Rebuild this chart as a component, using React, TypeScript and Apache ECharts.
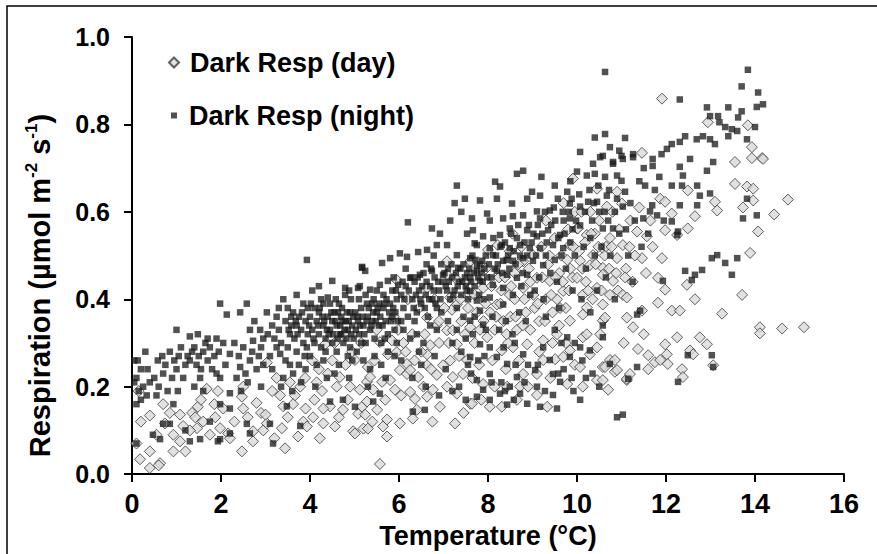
import React, { useEffect, useRef } from "react";
import * as echarts from "echarts";

const seriesNames = ["Dark Resp (day)", "Dark Resp (night)"];
const xTicks = [0, 2, 4, 6, 8, 10, 12, 14, 16];
const yTicks = [0, 0.2, 0.4, 0.6, 0.8, 1.0];

// Night (squares): [temperature, respiration]
const nightData: number[][] = [
  [0.05,0.21],[0.1,0.22],[0.13,0.26],[0.1,0.16],[0.1,0.07],[0.2,0.24],[0.3,0.28],[0.33,0.18],[0.4,0.21],[0.47,0.09],[0.55,0.18],[0.58,0.26],[0.63,0.08],[0.7,0.23],[0.7,0.115],[0.85,0.28],[0.85,0.115],[0.93,0.16],[0.25,0.2],[0.5,0.22],[0.75,0.25],[0.9,0.22],[0.15,0.19],[0.6,0.2],[0.8,0.19],[0.95,0.26],[0.35,0.24],[0.05,0.26],[0.2,0.17],[0.68,0.27],
  [1.0,0.33],[1.0,0.24],[1.03,0.19],[1.3,0.315],[1.48,0.32],[1.35,0.28],[1.2,0.25],[1.25,0.27],[1.3,0.26],[1.4,0.29],[1.45,0.25],[1.5,0.27],[1.55,0.24],[1.6,0.28],[1.7,0.26],[1.75,0.29],[1.85,0.27],[1.9,0.23],[1.53,0.22],[1.3,0.075],[1.53,0.08],[1.93,0.075],[1.98,0.22],[1.98,0.16],[1.98,0.39],[1.1,0.29],[1.15,0.22],[1.65,0.3],[1.8,0.24],[1.95,0.28],[1.05,0.27],[1.7,0.31],[1.4,0.2],[1.6,0.19],[1.2,0.1],[1.75,0.12],[1.9,0.31],
  [2.13,0.365],[2.43,0.37],[2.58,0.39],[2.2,0.275],[2.43,0.245],[2.65,0.26],[2.8,0.24],[2.2,0.185],[2.2,0.15],[2.58,0.115],[2.65,0.093],[1.98,0.08],[2.2,0.093],[2.65,0.33],[2.72,0.305],[2.95,0.31],[2.3,0.3],[2.4,0.27],[2.5,0.29],[2.55,0.23],[2.7,0.28],[2.85,0.27],[2.9,0.29],[2.35,0.22],[2.1,0.25],[2.05,0.3],[2.75,0.35],[2.88,0.33],[2.6,0.21],[2.45,0.19],[2.95,0.25],[2.9,0.2],
  [3.03,0.37],[3.25,0.36],[3.4,0.4],[3.62,0.37],[3.7,0.34],[3.55,0.32],[3.25,0.29],[3.1,0.27],[3.33,0.275],[3.62,0.23],[3.85,0.39],[3.93,0.29],[3.1,0.115],[3.17,0.07],[3.48,0.155],[3.78,0.11],[3.93,0.49],[3.05,0.32],[3.15,0.34],[3.2,0.31],[3.3,0.33],[3.35,0.3],[3.45,0.35],[3.5,0.29],[3.58,0.34],[3.65,0.31],[3.7,0.28],[3.75,0.36],[3.8,0.33],[3.85,0.3],[3.9,0.35],[3.95,0.32],[3.45,0.26],[3.55,0.25],[3.75,0.25],[3.88,0.27],[3.15,0.24],[3.4,0.22],[3.8,0.21],[3.6,0.19],[3.95,0.38],[3.5,0.38],[3.3,0.38],[3.7,0.41],[3.9,0.24],[3.35,0.2],
  [3.52,0.33],[3.68,0.35],[3.82,0.37],[3.98,0.34],[3.72,0.32],[3.58,0.36],
  [4.0,0.36],[4.05,0.33],[4.1,0.38],[4.1,0.3],[4.15,0.35],[4.2,0.32],[4.2,0.37],[4.25,0.29],[4.3,0.34],[4.3,0.39],[4.35,0.31],[4.4,0.36],[4.4,0.404],[4.45,0.33],[4.5,0.442],[4.5,0.3],[4.55,0.37],[4.6,0.34],[4.6,0.28],[4.65,0.39],[4.7,0.32],[4.7,0.36],[4.75,0.3],[4.79,0.41],[4.79,0.426],[4.8,0.35],[4.85,0.33],[4.9,0.37],[4.9,0.29],[4.95,0.34],[4.0,0.27],[4.15,0.25],[4.3,0.26],[4.45,0.166],[4.74,0.17],[4.55,0.23],[4.65,0.25],[4.85,0.27],[4.05,0.42],[4.25,0.4],[4.35,0.28],[4.5,0.35],[4.62,0.31],[4.72,0.38],[4.82,0.31],[4.92,0.4],[4.98,0.31],[4.12,0.2],[4.38,0.22],[4.88,0.22],[4.2,0.43],[4.58,0.4],[4.42,0.32],[4.68,0.34],[4.28,0.36],[4.95,0.26],
  [4.08,0.31],[4.18,0.34],[4.22,0.38],[4.32,0.35],[4.38,0.33],[4.48,0.37],[4.52,0.32],[4.57,0.35],[4.63,0.37],[4.67,0.32],[4.73,0.35],[4.78,0.33],[4.83,0.37],[4.87,0.35],[4.93,0.32],[4.97,0.36],[4.45,0.39],[4.02,0.39],[4.88,0.42],
  [5.01,0.154],[5.08,0.426],[5.08,0.35],[5.1,0.32],[5.15,0.38],[5.17,0.474],[5.17,0.472],[5.2,0.34],[5.24,0.465],[5.25,0.3],[5.3,0.36],[5.35,0.422],[5.35,0.33],[5.4,0.39],[5.42,0.166],[5.45,0.31],[5.5,0.37],[5.55,0.34],[5.57,0.433],[5.57,0.184],[5.6,0.3],[5.62,0.483],[5.65,0.38],[5.7,0.35],[5.75,0.442],[5.75,0.32],[5.8,0.494],[5.8,0.39],[5.85,0.36],[5.9,0.33],[5.95,0.4],[5.98,0.433],[5.05,0.28],[5.2,0.26],[5.35,0.24],[5.45,0.27],[5.6,0.25],[5.75,0.28],[5.9,0.27],[5.1,0.4],[5.25,0.41],[5.4,0.35],[5.5,0.42],[5.65,0.41],[5.85,0.42],[5.3,0.2],[5.7,0.22],[5.95,0.3],[5.15,0.3],[5.55,0.39],[5.88,0.45],[5.02,0.37],[5.42,0.37],[5.68,0.31],[5.78,0.37],[5.28,0.39],[5.92,0.37],
  [5.03,0.33],[5.07,0.36],[5.12,0.34],[5.18,0.36],[5.22,0.32],[5.27,0.35],[5.32,0.38],[5.38,0.34],[5.43,0.4],[5.48,0.35],[5.52,0.38],[5.58,0.36],[5.63,0.34],[5.67,0.39],[5.72,0.4],[5.82,0.35],[5.87,0.38],[5.93,0.42],[5.97,0.35],[5.12,0.43],
  [6.02,0.505],[6.18,0.497],[6.2,0.576],[6.25,0.449],[6.43,0.508],[6.47,0.456],[6.63,0.513],[6.74,0.562],[6.74,0.465],[6.85,0.524],[6.92,0.55],[6.99,0.456],[6.31,0.143],[6.58,0.147],[6.05,0.41],[6.1,0.38],[6.15,0.43],[6.2,0.36],[6.3,0.4],[6.35,0.44],[6.4,0.37],[6.45,0.42],[6.5,0.39],[6.55,0.46],[6.6,0.41],[6.65,0.36],[6.7,0.43],[6.75,0.4],[6.8,0.45],[6.85,0.38],[6.9,0.42],[6.95,0.48],[6.1,0.33],[6.25,0.31],[6.4,0.32],[6.55,0.3],[6.7,0.34],[6.85,0.33],[6.05,0.26],[6.3,0.22],[6.5,0.25],[6.8,0.27],[6.6,0.2],[6.9,0.18],[6.15,0.47],[6.35,0.35],[6.62,0.48],[6.78,0.5],[6.95,0.37],[6.05,0.35],[6.45,0.28],
  [6.08,0.44],[6.12,0.4],[6.22,0.42],[6.28,0.45],[6.33,0.38],[6.38,0.41],[6.42,0.45],[6.48,0.4],[6.52,0.43],[6.58,0.38],[6.62,0.44],[6.68,0.4],[6.72,0.47],[6.78,0.42],[6.82,0.39],[6.88,0.44],[6.93,0.4],[6.98,0.44],
  [7.08,0.524],[7.3,0.501],[7.33,0.472],[7.53,0.55],[7.53,0.46],[7.7,0.528],[7.75,0.476],[7.64,0.585],[7.66,0.558],[7.75,0.524],[7.6,0.494],[7.87,0.488],[7.75,0.465],[7.82,0.442],[7.6,0.419],[7.75,0.397],[7.82,0.374],[7.6,0.351],[7.89,0.342],[7.66,0.32],[7.82,0.297],[7.6,0.268],[7.75,0.215],[7.89,0.193],[7.75,0.177],[7.82,0.626],[7.98,0.596],[7.89,0.544],[7.05,0.43],[7.1,0.47],[7.15,0.4],[7.2,0.45],[7.25,0.42],[7.3,0.38],[7.35,0.44],[7.4,0.41],[7.45,0.48],[7.5,0.43],[7.55,0.4],[7.6,0.45],[7.65,0.5],[7.7,0.43],[7.8,0.41],[7.85,0.46],[7.9,0.4],[7.95,0.5],[7.1,0.35],[7.2,0.3],[7.3,0.33],[7.4,0.28],[7.45,0.36],[7.5,0.31],[7.55,0.25],[7.7,0.36],[7.25,0.62],[7.3,0.66],[7.4,0.6],[7.15,0.58],[7.48,0.63],[7.35,0.2],[7.5,0.17],[7.05,0.24],[7.2,0.19],[7.95,0.33],[7.92,0.27],
  [7.02,0.46],[7.08,0.42],[7.12,0.44],[7.18,0.48],[7.22,0.41],[7.28,0.46],[7.32,0.43],[7.38,0.47],[7.42,0.44],[7.48,0.45],[7.52,0.42],[7.58,0.47],[7.62,0.44],[7.68,0.46],[7.72,0.49],[7.78,0.45],[7.82,0.48],[7.88,0.44],[7.92,0.47],[7.98,0.45],[7.62,0.23],[7.78,0.26],
  [8.04,0.58],[8.04,0.517],[8.04,0.404],[8.04,0.29],[8.04,0.229],[8.04,0.17],[8.11,0.501],[8.11,0.433],[8.16,0.669],[8.2,0.63],[8.2,0.465],[8.2,0.268],[8.27,0.658],[8.27,0.547],[8.27,0.184],[8.31,0.524],[8.34,0.585],[8.34,0.488],[8.34,0.426],[8.34,0.388],[8.43,0.456],[8.43,0.252],[8.43,0.159],[8.49,0.562],[8.49,0.517],[8.49,0.2],[8.54,0.619],[8.56,0.59],[8.56,0.488],[8.56,0.41],[8.65,0.687],[8.65,0.54],[8.65,0.449],[8.65,0.222],[8.72,0.524],[8.72,0.184],[8.79,0.694],[8.79,0.592],[8.79,0.494],[8.79,0.274],[8.88,0.63],[8.88,0.558],[8.88,0.456],[8.88,0.161],[8.94,0.517],[8.99,0.646],[8.1,0.36],[8.25,0.33],[8.4,0.35],[8.55,0.32],[8.7,0.37],[8.85,0.35],[8.95,0.41],[8.6,0.3],[8.15,0.47],[8.45,0.5],[8.75,0.43],[8.3,0.21],[8.9,0.25],[8.58,0.17],[8.35,0.29],
  [8.02,0.48],[8.08,0.45],[8.12,0.54],[8.18,0.5],[8.22,0.48],[8.28,0.52],[8.32,0.46],[8.38,0.53],[8.42,0.49],[8.48,0.47],[8.52,0.55],[8.58,0.51],[8.62,0.48],[8.68,0.57],[8.72,0.5],[8.78,0.46],[8.82,0.53],[8.88,0.5],[8.92,0.57],[8.98,0.53],[8.08,0.21],[8.38,0.19],[8.62,0.25],[8.82,0.21],
  [9.01,0.488],[9.06,0.238],[9.1,0.601],[9.1,0.544],[9.1,0.2],[9.17,0.637],[9.17,0.585],[9.17,0.517],[9.17,0.154],[9.24,0.478],[9.24,0.29],[9.35,0.558],[9.39,0.603],[9.39,0.261],[9.46,0.524],[9.46,0.181],[9.46,0.229],[9.51,0.58],[9.57,0.63],[9.62,0.547],[9.62,0.211],[9.69,0.517],[9.78,0.646],[9.78,0.313],[9.84,0.619],[9.84,0.585],[9.84,0.268],[9.05,0.42],[9.15,0.45],[9.3,0.5],[9.4,0.46],[9.5,0.49],[9.55,0.44],[9.65,0.5],[9.7,0.58],[9.75,0.47],[9.85,0.53],[9.9,0.56],[9.95,0.5],[9.3,0.36],[9.5,0.33],[9.6,0.38],[9.9,0.42],[9.2,0.68],[9.5,0.66],[9.85,0.67],[9.7,0.24],[9.95,0.3],[9.25,0.4],[9.65,0.3],[9.92,0.19],[9.55,0.15],
  [9.02,0.55],[9.08,0.5],[9.12,0.57],[9.22,0.55],[9.28,0.6],[9.32,0.53],[9.42,0.57],[9.48,0.61],[9.58,0.54],[9.68,0.6],[9.72,0.55],[9.82,0.6],[9.88,0.63],[9.98,0.58],[9.12,0.25],[9.28,0.19],[9.58,0.23],[9.88,0.22],
  [10.0,0.692],[10.07,0.737],[10.07,0.612],[10.07,0.569],[10.07,0.29],[10.07,0.17],[10.22,0.683],[10.25,0.623],[10.29,0.283],[10.34,0.58],[10.36,0.71],[10.4,0.687],[10.45,0.623],[10.52,0.725],[10.58,0.728],[10.58,0.562],[10.58,0.313],[10.58,0.34],[10.63,0.68],[10.63,0.92],[10.63,0.778],[10.67,0.637],[10.74,0.748],[10.74,0.252],[10.81,0.71],[10.81,0.714],[10.81,0.562],[10.9,0.683],[10.9,0.63],[10.15,0.52],[10.2,0.47],[10.3,0.54],[10.4,0.5],[10.5,0.6],[10.55,0.52],[10.7,0.58],[10.75,0.5],[10.85,0.6],[10.95,0.55],[10.1,0.4],[10.3,0.37],[10.45,0.42],[10.65,0.45],[10.85,0.4],[10.2,0.22],[10.5,0.2],[10.9,0.13],[10.4,0.77],[10.95,0.74],
  [10.05,0.64],[10.18,0.6],[10.28,0.65],[10.38,0.62],[10.48,0.66],[10.62,0.6],[10.72,0.65],[10.12,0.26],[10.35,0.23],
  [11.0,0.671],[11.0,0.728],[11.03,0.721],[11.03,0.612],[11.03,0.136],[11.08,0.646],[11.08,0.769],[11.15,0.218],[11.26,0.732],[11.26,0.725],[11.35,0.365],[11.35,0.245],[11.42,0.374],[11.49,0.585],[11.53,0.66],[11.64,0.601],[11.69,0.615],[11.7,0.721],[11.7,0.705],[11.8,0.592],[11.9,0.732],[11.93,0.442],[11.1,0.56],[11.2,0.62],[11.3,0.58],[11.4,0.67],[11.5,0.7],[11.6,0.55],[11.75,0.65],[11.85,0.68],[11.15,0.5],[11.45,0.52],[11.95,0.58],[11.25,0.44],
  [12.02,0.744],[12.13,0.755],[12.13,0.66],[12.13,0.578],[12.25,0.547],[12.27,0.555],[12.27,0.211],[12.31,0.857],[12.31,0.76],[12.31,0.703],[12.31,0.615],[12.36,0.66],[12.38,0.683],[12.43,0.773],[12.43,0.465],[12.49,0.272],[12.54,0.721],[12.58,0.444],[12.65,0.456],[12.69,0.766],[12.7,0.66],[12.7,0.615],[12.76,0.637],[12.81,0.467],[12.83,0.773],[12.92,0.839],[12.92,0.694],[12.99,0.819],[12.99,0.642],[12.99,0.766],
  [13.03,0.494],[13.03,0.272],[13.06,0.714],[13.06,0.245],[13.1,0.755],[13.15,0.501],[13.17,0.819],[13.2,0.805],[13.33,0.794],[13.33,0.483],[13.4,0.839],[13.4,0.773],[13.48,0.789],[13.48,0.456],[13.6,0.785],[13.6,0.494],[13.62,0.816],[13.7,0.887],[13.7,0.83],[13.73,0.585],[13.82,0.766],[13.82,0.63],[13.84,0.925],[14.0,0.794],[14.04,0.84],[14.04,0.592],[14.07,0.873],[14.18,0.846]
];

// Day (diamonds): [temperature, respiration]
const dayData: number[][] = [
  [0.18,0.034],[0.4,0.014],[0.63,0.025],[0.4,0.052],[0.4,0.134],[0.7,0.16],[0.74,0.116],[0.93,0.052],[0.93,0.09],[0.6,0.02],[0.1,0.07],[0.2,0.12],[0.55,0.09],[0.85,0.14],[0.15,0.19],
  [1.08,0.136],[1.35,0.14],[1.48,0.154],[1.42,0.13],[1.46,0.105],[1.3,0.1],[1.08,0.075],[1.2,0.052],[1.68,0.195],[1.93,0.19],[1.87,0.13],[1.98,0.105],[1.6,0.12],[1.75,0.09],[1.15,0.11],[1.55,0.17],[1.85,0.16],
  [2.16,0.093],[2.2,0.082],[2.47,0.052],[2.5,0.15],[2.72,0.098],[2.72,0.075],[2.5,0.2],[2.47,0.177],[2.8,0.163],[2.3,0.12],[2.6,0.13],[2.9,0.14],[2.05,0.15],[2.95,0.1],
  [3.03,0.116],[3.2,0.082],[3.37,0.105],[3.44,0.059],[3.73,0.086],[3.85,0.12],[3.89,0.22],[3.0,0.136],[3.03,0.255],[3.25,0.22],[3.33,0.18],[3.66,0.18],[3.4,0.155],[3.62,0.16],[3.93,0.109],[3.5,0.13],[3.15,0.19],[3.78,0.2],[3.55,0.21],[3.9,0.15],
  [4.07,0.13],[4.1,0.17],[4.22,0.082],[4.27,0.19],[4.3,0.116],[4.34,0.297],[4.45,0.155],[4.56,0.109],[4.6,0.2],[4.67,0.222],[4.74,0.147],[4.9,0.2],[4.97,0.098],[4.2,0.24],[4.5,0.26],[4.8,0.25],[4.15,0.21],[4.4,0.23],[4.85,0.17],[4.65,0.13],[4.95,0.28],[4.55,0.3],[4.75,0.32],[4.3,0.15],[4.05,0.26],
  [5.01,0.261],[5.01,0.093],[5.08,0.138],[5.12,0.193],[5.17,0.154],[5.2,0.104],[5.24,0.136],[5.28,0.211],[5.28,0.166],[5.3,0.245],[5.3,0.104],[5.35,0.222],[5.42,0.193],[5.51,0.147],[5.57,0.302],[5.57,0.023],[5.62,0.211],[5.64,0.109],[5.69,0.17],[5.73,0.125],[5.73,0.086],[5.75,0.274],[5.8,0.215],[5.84,0.306],[5.91,0.193],[5.95,0.279],[5.95,0.444],[5.45,0.26],[5.15,0.3],[5.5,0.33],[5.88,0.36],[5.4,0.12],[5.98,0.33],
  [6.02,0.238],[6.02,0.116],[6.18,0.229],[6.18,0.252],[6.25,0.188],[6.25,0.238],[6.31,0.127],[6.36,0.172],[6.4,0.147],[6.43,0.222],[6.63,0.358],[6.63,0.274],[6.63,0.249],[6.63,0.426],[6.63,0.177],[6.7,0.295],[6.76,0.193],[6.85,0.34],[6.85,0.227],[6.92,0.154],[6.99,0.249],[6.1,0.3],[6.3,0.32],[6.5,0.28],[6.45,0.38],[6.2,0.4],[6.8,0.4],[6.55,0.2],[6.9,0.3],[6.05,0.18],[6.75,0.12],[6.15,0.28],[6.35,0.26],[6.58,0.32],[6.72,0.24],[6.9,0.35],
  [7.08,0.487],[7.08,0.456],[7.08,0.2],[7.08,0.329],[7.15,0.404],[7.19,0.376],[7.21,0.222],[7.21,0.329],[7.26,0.116],[7.3,0.184],[7.3,0.297],[7.3,0.388],[7.44,0.229],[7.53,0.261],[7.6,0.487],[7.6,0.161],[7.6,0.336],[7.6,0.41],[7.64,0.161],[7.89,0.426],[7.89,0.206],[7.98,0.313],[7.4,0.35],[7.5,0.44],[7.7,0.3],[7.75,0.37],[7.8,0.25],[7.35,0.27],[7.95,0.47],[7.85,0.17],[7.15,0.26],[7.65,0.22],[7.45,0.14],[7.9,0.35],[7.55,0.38],[7.25,0.45],
  [7.02,0.38],[7.12,0.3],[7.38,0.4],[7.48,0.32],[7.7,0.41],[7.82,0.33],[7.95,0.39],
  [8.0,0.513],[8.04,0.154],[8.2,0.388],[8.22,0.524],[8.31,0.154],[8.31,0.283],[8.43,0.2],[8.49,0.51],[8.49,0.41],[8.56,0.29],[8.65,0.17],[8.72,0.2],[8.79,0.229],[8.79,0.487],[8.79,0.426],[8.88,0.297],[8.1,0.26],[8.15,0.33],[8.25,0.45],[8.35,0.35],[8.4,0.24],[8.5,0.36],[8.6,0.46],[8.65,0.33],[8.7,0.26],[8.85,0.37],[8.95,0.44],[8.9,0.2],[8.55,0.55],[8.3,0.42],[8.05,0.37],[8.6,0.4],[8.45,0.3],[8.95,0.33],[8.75,0.52],[8.15,0.2],
  [8.08,0.43],[8.18,0.36],[8.28,0.39],[8.38,0.45],[8.42,0.32],[8.52,0.43],[8.62,0.36],[8.68,0.48],[8.78,0.34],[8.82,0.4],[8.92,0.47],
  [9.01,0.501],[9.1,0.181],[9.1,0.229],[9.1,0.449],[9.24,0.261],[9.24,0.306],[9.33,0.154],[9.39,0.442],[9.51,0.263],[9.55,0.32],[9.69,0.268],[9.69,0.419],[9.78,0.206],[9.84,0.283],[9.84,0.351],[9.84,0.524],[9.91,0.676],[9.05,0.38],[9.15,0.35],[9.2,0.52],[9.3,0.4],[9.35,0.48],[9.45,0.37],[9.5,0.54],[9.6,0.46],[9.6,0.34],[9.65,0.5],[9.75,0.38],[9.8,0.56],[9.9,0.45],[9.95,0.6],[9.4,0.22],[9.7,0.62],[9.3,0.58],[9.95,0.25],[9.15,0.28],[9.55,0.4],[9.85,0.47],[9.45,0.3],[9.75,0.3],
  [9.02,0.41],[9.12,0.39],[9.22,0.45],[9.28,0.35],[9.38,0.5],[9.42,0.41],[9.52,0.45],[9.62,0.38],[9.68,0.44],[9.78,0.49],[9.82,0.42],[9.92,0.52],
  [10.0,0.562],[10.0,0.449],[10.02,0.562],[10.07,0.488],[10.07,0.245],[10.13,0.41],[10.13,0.313],[10.13,0.365],[10.13,0.2],[10.22,0.547],[10.22,0.381],[10.22,0.32],[10.29,0.478],[10.29,0.274],[10.36,0.501],[10.45,0.653],[10.45,0.426],[10.45,0.29],[10.45,0.215],[10.52,0.32],[10.58,0.472],[10.58,0.517],[10.58,0.456],[10.58,0.388],[10.58,0.351],[10.58,0.245],[10.58,0.215],[10.63,0.358],[10.67,0.612],[10.7,0.193],[10.74,0.54],[10.74,0.41],[10.74,0.261],[10.81,0.442],[10.85,0.261],[10.85,0.234],[10.9,0.646],[10.9,0.494],[10.9,0.238],[10.63,0.245],[10.3,0.6],[10.5,0.58],[10.8,0.6],[10.4,0.55],[10.95,0.56],[10.2,0.44],[10.65,0.52],[10.35,0.4],[10.1,0.6],[10.55,0.42],
  [10.05,0.51],[10.12,0.47],[10.18,0.53],[10.25,0.42],[10.32,0.55],[10.42,0.48],[10.48,0.52],[10.62,0.5],[10.72,0.47],[10.78,0.52],[10.88,0.46],[10.92,0.42],
  [11.01,0.619],[11.03,0.524],[11.03,0.41],[11.12,0.215],[11.12,0.358],[11.12,0.404],[11.12,0.218],[11.19,0.229],[11.26,0.336],[11.35,0.555],[11.37,0.286],[11.46,0.735],[11.46,0.494],[11.46,0.374],[11.57,0.544],[11.6,0.272],[11.6,0.24],[11.75,0.256],[11.82,0.449],[11.82,0.392],[11.87,0.63],[11.87,0.261],[11.91,0.859],[11.91,0.494],[11.98,0.623],[11.98,0.558],[11.98,0.422],[11.98,0.297],[11.1,0.47],[11.2,0.58],[11.3,0.5],[11.4,0.61],[11.25,0.44],[11.55,0.46],[11.7,0.52],[11.05,0.3],[11.5,0.32],[11.65,0.58],[11.08,0.45],[11.18,0.52],
  [12.02,0.274],[12.04,0.252],[12.13,0.596],[12.13,0.374],[12.25,0.547],[12.25,0.313],[12.31,0.374],[12.36,0.24],[12.38,0.222],[12.47,0.433],[12.49,0.649],[12.49,0.562],[12.54,0.283],[12.61,0.274],[12.65,0.59],[12.65,0.4],[12.76,0.313],[12.92,0.297],[12.94,0.805],
  [13.06,0.249],[13.1,0.623],[13.15,0.603],[13.26,0.367],[13.55,0.714],[13.55,0.664],[13.71,0.41],[13.73,0.61],[13.82,0.658],[13.84,0.798],[13.89,0.506],[13.93,0.748],[13.93,0.723],[13.96,0.653],[13.96,0.626],[14.07,0.555],[14.11,0.336],[14.11,0.322],[14.16,0.723],[14.18,0.721],[14.43,0.594],[14.61,0.333],[14.74,0.628],[15.1,0.336]
];

export default function App() {
  const ref = useRef<HTMLDivElement>(null);
  useEffect(() => {
    if (!ref.current) return;
    const chart = echarts.init(ref.current, undefined, { renderer: "svg" });
    const sans = "Liberation Sans, Arial, sans-serif";
    const narrow = "Liberation Sans Narrow, Arial Narrow, sans-serif";
    chart.setOption({
      animation: false,
      backgroundColor: "#ffffff",
      grid: { left: 132, right: 33, top: 37, bottom: 76, containLabel: false },
      graphic: [
        {
          type: "rect",
          shape: { x: 7, y: 6, width: 920, height: 620 },
          style: { fill: "none", stroke: "#000", lineWidth: 1.5 },
          silent: true,
          z: 100,
        },
      ],
      legend: [
        {
          data: [{ name: seriesNames[0], icon: "diamond" }],
          left: 163,
          top: 44,
          padding: 5,
          itemWidth: 10,
          itemHeight: 10,
          textStyle: { fontSize: 27, fontWeight: "bold", color: "#000", fontFamily: sans, padding: [0, 0, 0, 6] },
        },
        {
          data: [{ name: seriesNames[1], icon: "rect" }],
          left: 166,
          top: 97,
          padding: 5,
          itemWidth: 6,
          itemHeight: 6,
          textStyle: { fontSize: 27, fontWeight: "bold", color: "#000", fontFamily: sans, padding: [0, 0, 0, 7] },
        },
      ],
      xAxis: {
        type: "value",
        min: xTicks[0],
        max: xTicks[xTicks.length - 1],
        interval: 2,
        name: "Temperature (°C)",
        nameLocation: "middle",
        nameGap: 44,
        nameTextStyle: { fontSize: 27, fontWeight: "bold", color: "#000", fontFamily: narrow },
        splitLine: { show: false },
        axisLine: { lineStyle: { color: "#000", width: 2 } },
        axisTick: { inside: false, length: 8, lineStyle: { color: "#000", width: 2 } },
        axisLabel: { fontSize: 27, fontWeight: "bold", color: "#000", margin: 16, fontFamily: narrow },
      },
      yAxis: {
        type: "value",
        min: yTicks[0],
        max: yTicks[yTicks.length - 1],
        interval: 0.2,
        name: "Respiration (µmol m{sup|-2} s{sup|-1})",
        nameLocation: "middle",
        nameGap: 76,
        nameTextStyle: {
          fontSize: 29,
          fontWeight: "bold",
          color: "#000",
          fontFamily: sans,
          lineHeight: 33,
          padding: [0, 60, 0, 0],
          rich: {
            sup: { fontSize: 17, fontWeight: "bold", color: "#000", fontFamily: sans, verticalAlign: "top", lineHeight: 17 },
          },
        },
        splitLine: { show: false },
        axisLine: { show: true, lineStyle: { color: "#000", width: 2 } },
        axisTick: { show: true, inside: false, length: 8, lineStyle: { color: "#000", width: 2 } },
        axisLabel: {
          fontSize: 25,
          fontWeight: "bold",
          color: "#000",
          margin: 22,
          fontFamily: sans,
          formatter: (v: number) => v.toFixed(1),
        },
      },
      series: [
        {
          name: seriesNames[0],
          type: "scatter",
          symbol: "diamond",
          symbolSize: 11,
          data: dayData,
          itemStyle: { color: "#d9d9d9", borderColor: "#3a3a3a", borderWidth: 1 },
          z: 2,
        },
        {
          name: seriesNames[1],
          type: "scatter",
          symbol: "rect",
          symbolSize: 6.5,
          data: nightData,
          itemStyle: { color: "#1a1a1a", opacity: 0.76 },
          z: 3,
        },
      ],
    });
    return () => chart.dispose();
  }, []);
  return <div ref={ref} style={{ position: "fixed", left: 0, top: 0, width: 877, height: 554 }} />;
}
